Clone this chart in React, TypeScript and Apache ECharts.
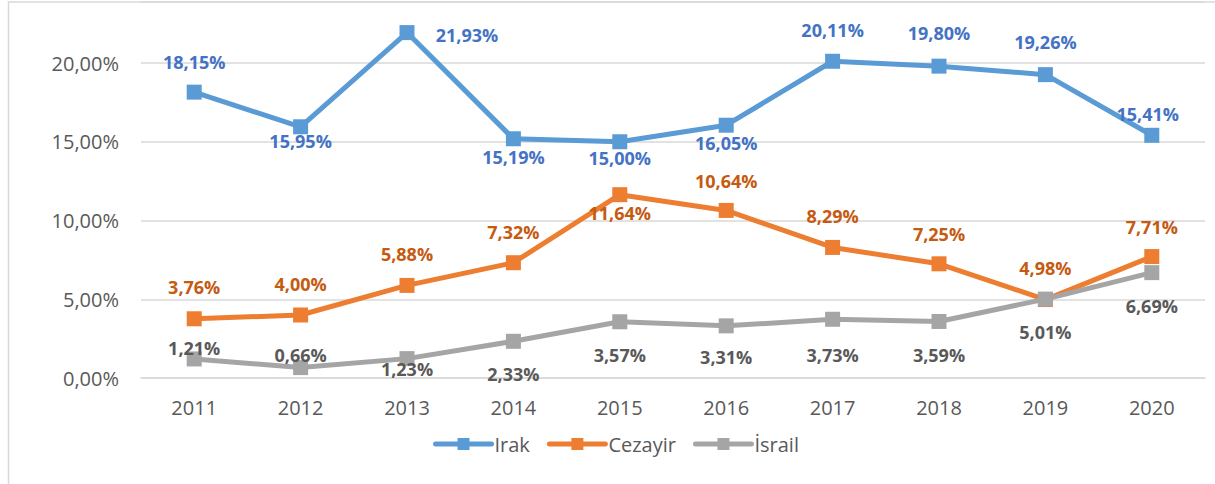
import React, { useEffect, useRef } from "react";
import * as echarts from "echarts";

const years = ["2011", "2012", "2013", "2014", "2015", "2016", "2017", "2018", "2019", "2020"];
const irak = [18.15, 15.95, 21.93, 15.19, 15.0, 16.05, 20.11, 19.8, 19.26, 15.41];
const cezayir = [3.76, 4.0, 5.88, 7.32, 11.64, 10.64, 8.29, 7.25, 4.98, 7.71];
const israil = [1.21, 0.66, 1.23, 2.33, 3.57, 3.31, 3.73, 3.59, 5.01, 6.69];
const yTicks = [0, 5, 10, 15, 20];

// label offsets (dx, dy) from each point's centre
const irakLabelOffsets = [[0, -30], [0, 14], [60, 2], [0, 18], [0, 16], [0, 18], [0, -31], [0, -33], [0, -33], [-4, -21]];
const cezayirLabelOffsets = [[0, -32], [0, -31], [0, -31], [0, -31], [0, 18], [0, -29], [0, -31], [0, -30], [0, -32], [0, -30]];
const israilLabelOffsets = [[0, -11], [0, -13], [0, 10], [0, 33], [0, 33], [0, 31], [0, 36], [0, 34], [0, 33], [0, 33]];

const FONT = "'Open Sans', 'Noto Sans', sans-serif";
const fmt = (v: number) => v.toFixed(2).replace(".", ",") + "%";

function makeSeries(name: string, values: number[], offsets: number[][], lineColor: string, labelColor: string) {
  return {
    name,
    type: "line",
    data: values.map((v, i) => ({
      value: v,
      label: { offset: offsets[i] },
    })),
    symbol: "rect",
    symbolSize: 15,
    lineStyle: { width: 5, color: lineColor },
    itemStyle: { color: lineColor },
    label: {
      show: true,
      position: "inside",
      align: "center",
      verticalAlign: "middle",
      color: labelColor,
      fontFamily: FONT,
      fontWeight: "bold",
      fontSize: 18,
      formatter: (p: any) => fmt(p.value),
    },
    emphasis: { disabled: true },
  };
}

export default function App() {
  const ref = useRef<HTMLDivElement>(null);
  useEffect(() => {
    if (!ref.current) return;
    const chart = echarts.init(ref.current, null, { renderer: "svg" });
    // plot spans y=2 (top) to y=378 (0%), 20% sits at y=63
    const yMax = (376 / 315) * 20;
    chart.setOption({
      animation: false,
      backgroundColor: "#ffffff",
      grid: { left: 141, right: 10, top: 2, bottom: 106, containLabel: false },
      graphic: [
        {
          type: "rect",
          shape: { x: 8.5, y: 2, width: 1300, height: 600 },
          style: { fill: "none", stroke: "#D9D9D9", lineWidth: 1.5 },
          silent: true,
          z: -10,
        },
      ],
      xAxis: {
        type: "category",
        data: years,
        boundaryGap: true,
        axisLine: { lineStyle: { color: "#D9D9D9", width: 1.5 } },
        axisTick: { show: false },
        axisLabel: { color: "#595959", fontFamily: FONT, fontSize: 20, margin: 19 },
      },
      yAxis: {
        type: "value",
        min: 0,
        max: yMax,
        interval: 5,
        axisLine: { show: false },
        axisTick: { show: false },
        axisLabel: {
          color: "#595959",
          fontFamily: FONT,
          fontSize: 20,
          margin: 22,
          formatter: (v: number) => (yTicks.indexOf(Math.round(v * 100) / 100) >= 0 ? fmt(v) : ""),
        },
        splitLine: { lineStyle: { color: "#D9D9D9", width: 1.5 } },
      },
      legend: {
        bottom: 25,
        left: 428,
        itemWidth: 56,
        itemHeight: 15,
        itemGap: 17,
        lineStyle: { width: 5, cap: "round" },
        textStyle: { color: "#595959", fontFamily: FONT, fontSize: 20, padding: [0, 0, 0, -2] },
        data: ["Irak", "Cezayir", "İsrail"],
      },
      series: [
        makeSeries("Irak", irak, irakLabelOffsets, "#5B9BD5", "#4472C4"),
        makeSeries("Cezayir", cezayir, cezayirLabelOffsets, "#ED7D31", "#C55A11"),
        makeSeries("İsrail", israil, israilLabelOffsets, "#A5A5A5", "#595959"),
      ],
    });
    return () => chart.dispose();
  }, []);
  return <div ref={ref} style={{ position: "fixed", left: 0, top: 0, width: 1215, height: 484 }} />;
}
